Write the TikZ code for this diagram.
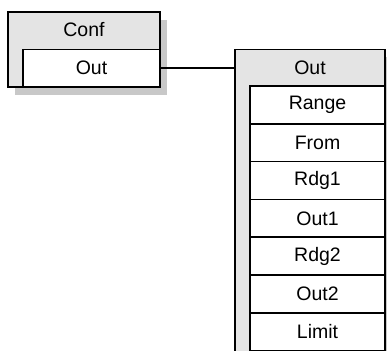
\documentclass[tikz,border=0pt]{standalone}
\usepackage{fontspec}
\setmainfont{Liberation Sans}
\usetikzlibrary{positioning}
\definecolor{boxgray}{HTML}{E4E4E4}
\definecolor{shadowgray}{HTML}{C8C8C8}
\tikzset{
  outerbox/.style={draw=black, fill=boxgray, line width=1.5pt, anchor=north west, inner sep=0pt, outer sep=0pt},
  shadowbox/.style={fill=shadowgray, anchor=north west, inner sep=0pt, outer sep=0pt},
  rowbox/.style={draw=black, fill=white, line width=1.5pt, anchor=north west, inner sep=0pt, outer sep=0pt,
    minimum width=135pt, minimum height=37.8pt, font=\fontsize{19.5}{22}\selectfont},
  titletext/.style={font=\fontsize{19.5}{22}\selectfont, inner sep=0pt, outer sep=0pt},
  link/.style={draw=black, line width=1.5pt}
}
\begin{document}
\begin{tikzpicture}[x=1pt,y=-1pt]
\useasboundingbox (0,0) rectangle (387,350);
\clip (0,0) rectangle (387,350);
% Conf block
\node[shadowbox, minimum width=152pt, minimum height=75pt] (confshadow) at (15,20) {};
\node[outerbox, minimum width=152pt, minimum height=75pt] (conf) at (8,12) {};
\node[titletext] (conftitle) at (84,30) {Conf};
\node[rowbox, minimum width=137pt, minimum height=37.5pt] (confout) at (23,49.5) {Out};
% Out block
\node[shadowbox, minimum width=150pt, minimum height=360pt] (outshadow) at (242,57) {};
\node[outerbox, minimum width=150pt, minimum height=360pt] (outbox) at (235,49.5) {};
\node[titletext, minimum width=150pt, minimum height=37.5pt, anchor=north west] (outtitle) at (235,49.5) {Out};
\node[rowbox] (r1) at (250,86) {Range};
\node[rowbox] (r2) at (250,123.8) {From};
\node[rowbox] (r3) at (250,161.6) {Rdg1};
\node[rowbox] (r4) at (250,199.4) {Out1};
\node[rowbox] (r5) at (250,237.2) {Rdg2};
\node[rowbox] (r6) at (250,275) {Out2};
\node[rowbox] (r7) at (250,312.8) {Limit};
% connector
\draw[link] (confout.east) -- (outtitle.west);
\end{tikzpicture}
\end{document}
